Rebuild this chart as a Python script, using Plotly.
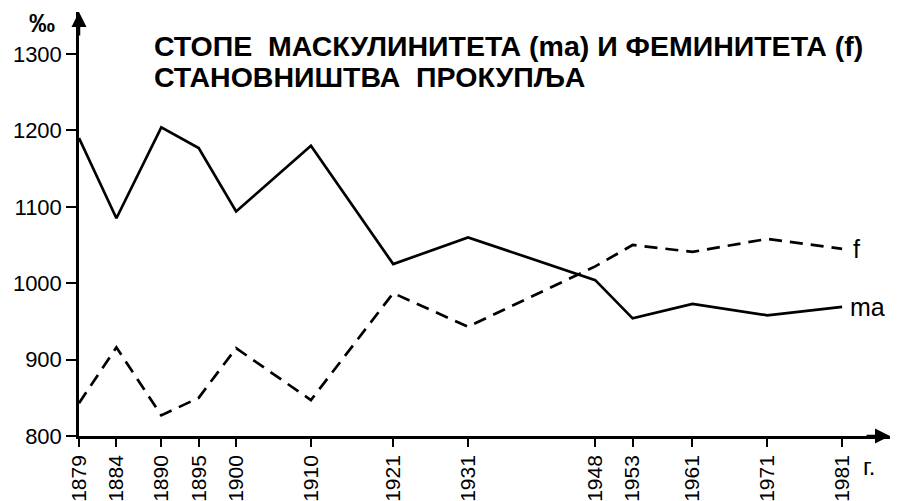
import plotly.graph_objects as go

years = [1879, 1884, 1890, 1895, 1900, 1910, 1921, 1931, 1948, 1953, 1961, 1971, 1981]
ma = [1190, 1085, 1204, 1177, 1094, 1180, 1025, 1060, 1004, 954, 973, 958, 969]
f = [843, 916, 827, 850, 915, 847, 987, 943, 1022, 1050, 1041, 1058, 1045]
y_ticks = [800, 900, 1000, 1100, 1200, 1300]
x_labels = [str(y) for y in years]

title_line1 = "СТОПЕ  МАСКУЛИНИТЕТА (ma) И ФЕМИНИТЕТА (f)"
title_line2 = "СТАНОВНИШТВА  ПРОКУПЉА"

FONT = "Liberation Sans, Arial, Helvetica, sans-serif"

fig = go.Figure()
fig.add_trace(go.Scatter(x=years, y=ma, mode="lines", name="ma",
                         line=dict(color="black", width=2.7)))
fig.add_trace(go.Scatter(x=years, y=f, mode="lines", name="f",
                         line=dict(color="black", width=2.7, dash="13px,8px")))

# the page body adds an 8px margin, so the figure is offset by 8px
fig.update_layout(
    width=883, height=493,
    margin=dict(l=71, r=1, t=4, b=65),
    paper_bgcolor="white", plot_bgcolor="white",
    showlegend=False,
    font=dict(family=FONT, color="black"),
)
fig.update_xaxes(range=[1879, 1987.4], showgrid=False, zeroline=False,
                 automargin=False,
                 showline=True, linecolor="black", linewidth=2.5,
                 tickmode="array", tickvals=years, ticktext=x_labels,
                 ticks="outside", ticklen=8, tickwidth=2, tickcolor="black",
                 tickangle=-90, tickfont=dict(size=21, family=FONT))
fig.update_yaxes(range=[800, 1355], showgrid=False, zeroline=False,
                 automargin=False,
                 showline=True, linecolor="black", linewidth=2.5,
                 tickmode="array", tickvals=y_ticks,
                 ticks="outside", ticklen=10, tickwidth=2, tickcolor="black",
                 tickfont=dict(size=22, family=FONT))

# axis arrowheads
fig.add_annotation(x=0, y=1, xref="paper", yref="paper", ax=0, ay=25,
                   text="", showarrow=True, arrowhead=2, arrowsize=1.2,
                   arrowwidth=2.5, arrowcolor="black")
fig.add_annotation(x=1, y=0, xref="paper", yref="paper", ax=-25, ay=0,
                   text="", showarrow=True, arrowhead=2, arrowsize=1.2,
                   arrowwidth=2.5, arrowcolor="black")

# title
fig.add_annotation(x=0.09, y=0.92, xref="paper", yref="paper",
                   xanchor="left", yanchor="middle", showarrow=False,
                   text="<b>" + title_line1 + "</b>",
                   font=dict(size=28.5, family=FONT))
fig.add_annotation(x=0.09, y=0.847, xref="paper", yref="paper",
                   xanchor="left", yanchor="middle", showarrow=False,
                   text="<b>" + title_line2 + "</b>",
                   font=dict(size=28.5, family=FONT))
# unit label
fig.add_annotation(x=0, y=1, xref="paper", yref="paper", xanchor="right", yanchor="middle",
                   xshift=-22, yshift=-11, showarrow=False, text="<b>‰</b>",
                   font=dict(size=26, family=FONT))
# series labels
fig.add_annotation(x=years[-1], y=f[-1], xanchor="left", yanchor="middle", xshift=9,
                   showarrow=False, text="f", font=dict(size=25, family=FONT))
fig.add_annotation(x=years[-1], y=ma[-1], xanchor="left", yanchor="middle", xshift=6,
                   showarrow=False, text="ma", font=dict(size=25, family=FONT))
# year unit
fig.add_annotation(x=years[-1], y=0, yref="paper", xanchor="left", yanchor="middle",
                   xshift=19, yshift=-30, showarrow=False, text="г.",
                   font=dict(size=24, family=FONT))

fig.write_html("out.html")
